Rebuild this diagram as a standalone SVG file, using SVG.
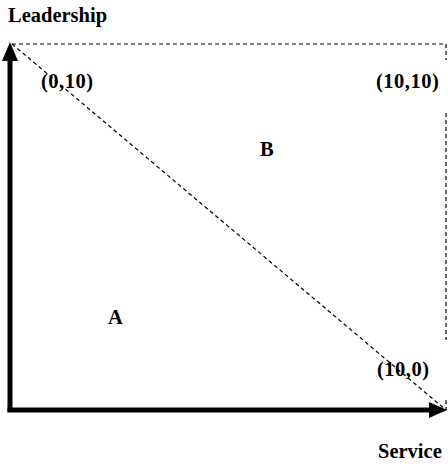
<svg xmlns="http://www.w3.org/2000/svg" width="448" height="466" viewBox="0 0 448 466">
<style>
text{font-family:"Liberation Serif","Times New Roman",serif;font-weight:bold;font-size:20.5px;fill:#000}
.dash{stroke:#000;stroke-width:1.2;stroke-dasharray:4,3;fill:none}
.axis{stroke:#000;stroke-width:5;fill:none}
</style>
<rect width="448" height="466" fill="#fff"/>
<g id="connectors">
<line class="dash" x1="12" y1="44" x2="446" y2="44"/>
<line class="dash" x1="446" y1="44" x2="446" y2="60"/>
<line class="dash" x1="446" y1="113" x2="446" y2="340"/>
<line class="dash" x1="446" y1="400" x2="446" y2="410"/>
<line class="dash" x1="12" y1="44" x2="446" y2="410" stroke-width="1.8"/>
<line class="axis" x1="10" y1="58" x2="10" y2="412"/>
<polygon points="10,42 2,61 18,61" fill="#000"/>
<line class="axis" x1="7.5" y1="410" x2="431" y2="410"/>
<polygon points="447,410 429,402 429,418" fill="#000"/>
</g>
<g id="label-leadership"><text x="8" y="22">Leadership</text></g>
<g id="label-0-10"><text x="41" y="88" letter-spacing="0.5">(0,10)</text></g>
<g id="label-10-10"><text x="376" y="88" letter-spacing="0.5">(10,10)</text></g>
<g id="label-B"><text x="260" y="156">B</text></g>
<g id="label-A"><text x="108" y="324">A</text></g>
<g id="label-10-0"><text x="377" y="376" letter-spacing="0.5">(10,0)</text></g>
<g id="label-service"><text x="378" y="458">Service</text></g>
</svg>
